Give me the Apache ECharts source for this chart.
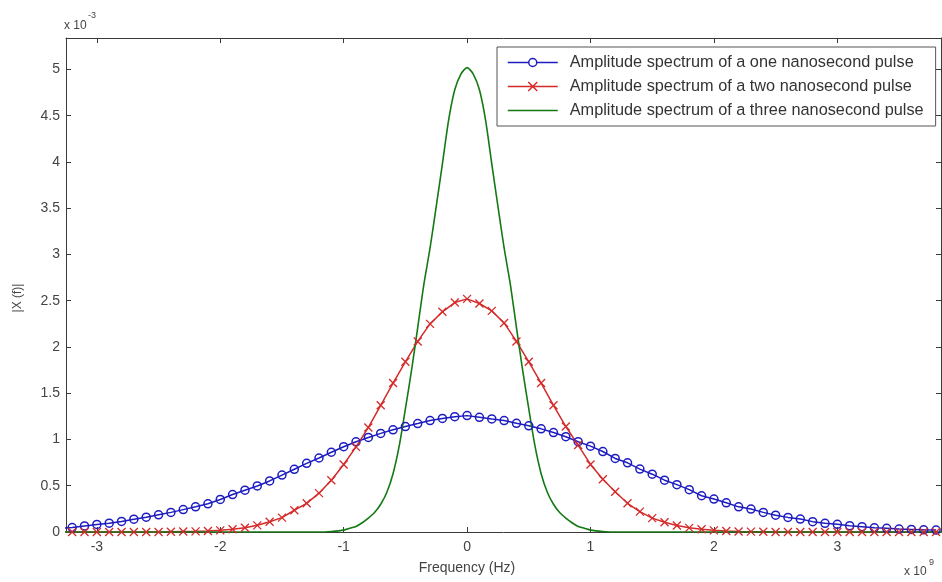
<!DOCTYPE html>
<html>
<head>
<meta charset="utf-8">
<script src="https://cdn.jsdelivr.net/npm/echarts@6/dist/echarts.min.js"></script>
<style>
html, body { margin: 0; padding: 0; background: #fff; }
#main { width: 942px; height: 582px; }
</style>
</head>
<body>
<div id="main"></div>
<script>
// 频率 (x 10^9 Hz)，每 0.1 一个点
var freq = [-3.3, -3.2, -3.1, -3, -2.9, -2.8, -2.7, -2.6, -2.5, -2.4, -2.3, -2.2, -2.1, -2,
  -1.9, -1.8, -1.7, -1.6, -1.5, -1.4, -1.3, -1.2, -1.1, -1, -0.9, -0.8, -0.7, -0.6, -0.5,
  -0.4, -0.3, -0.2, -0.1, 0, 0.1, 0.2, 0.3, 0.4, 0.5, 0.6, 0.7, 0.8, 0.9, 1, 1.1, 1.2,
  1.3, 1.4, 1.5, 1.6, 1.7, 1.8, 1.9, 2, 2.1, 2.2, 2.3, 2.4, 2.5, 2.6, 2.7, 2.8, 2.9, 3,
  3.1, 3.2, 3.3, 3.4, 3.5, 3.6, 3.7, 3.8];

// |X(f)| (x 10^-3)
var onePulse = [0.040, 0.048, 0.066, 0.082, 0.095, 0.114, 0.138, 0.160, 0.186, 0.212, 0.242,
  0.272, 0.305, 0.352, 0.405, 0.452, 0.498, 0.552, 0.615, 0.678, 0.742, 0.800, 0.862, 0.922,
  0.975, 1.022, 1.066, 1.105, 1.140, 1.172, 1.205, 1.228, 1.246, 1.258, 1.240, 1.222, 1.205,
  1.175, 1.148, 1.115, 1.075, 1.030, 0.976, 0.928, 0.870, 0.795, 0.748, 0.680, 0.625, 0.560,
  0.512, 0.458, 0.392, 0.356, 0.316, 0.272, 0.248, 0.212, 0.182, 0.158, 0.140, 0.112, 0.094,
  0.083, 0.068, 0.057, 0.046, 0.040, 0.032, 0.028, 0.023, 0.021];

var twoPulse = [0, 0, 0, 0, 0, 0, 0, 0, 0, 0.003, 0.005, 0.007, 0.011, 0.018, 0.03, 0.046,
  0.072, 0.11, 0.155, 0.235, 0.31, 0.42, 0.56, 0.73, 0.92, 1.13, 1.37, 1.61, 1.84, 2.06,
  2.25, 2.38, 2.48, 2.52, 2.47, 2.39, 2.26, 2.06, 1.84, 1.61, 1.37, 1.14, 0.94, 0.73, 0.57,
  0.435, 0.31, 0.22, 0.15, 0.105, 0.07, 0.045, 0.03, 0.018, 0.011, 0.006, 0.004, 0.002,
  0, 0, 0, 0, 0, 0, 0, 0, 0, 0, 0, 0, 0, 0];

var threeFreq = [-3.3, -1.2, -1.1, -1, -0.95, -0.9, -0.85, -0.8, -0.75, -0.7, -0.65, -0.6,
  -0.55, -0.5, -0.45, -0.4, -0.35, -0.3, -0.25, -0.2, -0.15, -0.1, -0.05, 0, 0.05, 0.1,
  0.15, 0.2, 0.25, 0.3, 0.35, 0.4, 0.45, 0.5, 0.55, 0.6, 0.65, 0.7, 0.75, 0.8, 0.85, 0.9,
  0.95, 1, 1.1, 1.2, 3.9];

var threePulse = [0, 0, 0.006, 0.02, 0.04, 0.06, 0.10, 0.15, 0.21, 0.30, 0.43, 0.63, 0.93,
  1.33, 1.75, 2.21, 2.68, 3.07, 3.52, 3.98, 4.45, 4.78, 4.95, 5.02, 4.95, 4.78, 4.45, 3.98,
  3.52, 3.07, 2.68, 2.21, 1.75, 1.33, 0.93, 0.63, 0.43, 0.30, 0.21, 0.15, 0.10, 0.06, 0.04,
  0.02, 0.006, 0, 0];

var xTicks = [-3, -2, -1, 0, 1, 2, 3];
var yTicks = [0, 0.5, 1, 1.5, 2, 2.5, 3, 3.5, 4, 4.5, 5];

var names = [
  'Amplitude spectrum of a one nanosecond pulse',
  'Amplitude spectrum of a two nanosecond pulse',
  'Amplitude spectrum of a three nanosecond pulse'
];

function pairs(xs, ys) {
  return xs.map(function (x, i) { return [x, ys[i]]; });
}

var font = 'Liberation Sans, Arial, sans-serif';
var axisColor = '#3a3a3a';
var textColor = '#444';
var blue = '#1c1cc0';
var red = '#d42a2a';
var green = '#137a13';
var crossPath = 'path://M0,0L10,10M10,0L0,10';

// 图例图标：线 + 标记（前缀 M0,0M50,14 固定包围盒）
var iconCircle = 'path://M0,0M50,14M0,7H21M29,7H50M21,7A4,4 0 1,0 29,7A4,4 0 1,0 21,7';
var iconCross = 'path://M0,0M50,14M0,7H50M20.5,2.5L29.5,11.5M29.5,2.5L20.5,11.5';
var iconLine = 'path://M0,0M50,14M0,7H50';

var myChart = echarts.init(document.getElementById('main'));

function axisCommon(ticks, extra) {
  var a = {
    type: 'value',
    axisLine: { show: true, onZero: false, lineStyle: { color: axisColor, width: 1 } },
    axisTick: { show: true, inside: true, length: 5, customValues: ticks, lineStyle: { color: axisColor } },
    splitLine: { show: false }
  };
  for (var k in extra) a[k] = extra[k];
  return a;
}

var option = {
  backgroundColor: '#fff',
  animation: false,
  grid: { left: 66, right: 1, top: 38, bottom: 50 },
  legend: {
    orient: 'vertical',
    left: 497,
    top: 47,
    padding: [6, 12, 6, 10],
    itemGap: 5,
    itemWidth: 50,
    itemHeight: 14,
    backgroundColor: '#fff',
    borderColor: '#555',
    borderWidth: 1,
    borderRadius: 0,
    textStyle: { fontFamily: font, fontSize: 16.3, color: '#333', padding: [0, 0, 0, 7], lineHeight: 19 },
    data: [
      { name: names[0], icon: iconCircle, itemStyle: { color: 'rgba(0,0,0,0)', borderColor: blue, borderWidth: 1.5 } },
      { name: names[1], icon: iconCross, itemStyle: { color: 'rgba(0,0,0,0)', borderColor: red, borderWidth: 1.5 } },
      { name: names[2], icon: iconLine, itemStyle: { color: 'rgba(0,0,0,0)', borderColor: green, borderWidth: 1.5 } }
    ]
  },
  xAxis: [
    axisCommon(xTicks, {
      min: -3.25, max: 3.84,
      axisLabel: { customValues: xTicks, fontFamily: font, fontSize: 14, color: textColor, margin: 8 }
    }),
    axisCommon(xTicks, {
      position: 'top', min: -3.25, max: 3.84,
      axisLabel: { show: false }
    })
  ],
  yAxis: [
    axisCommon(yTicks, {
      min: 0, max: 5.34,
      axisLabel: { customValues: yTicks, fontFamily: font, fontSize: 14, color: textColor, margin: 6 }
    }),
    axisCommon(yTicks, {
      position: 'right', min: 0, max: 5.34,
      axisLabel: { show: false }
    })
  ],
  series: [{
    name: names[0],
    type: 'line',
    data: pairs(freq, onePulse),
    symbol: 'circle',
    symbolSize: 8,
    lineStyle: { color: blue, width: 1.5 },
    itemStyle: { color: 'rgba(255,255,255,0)', borderColor: blue, borderWidth: 1.5 }
  }, {
    name: names[1],
    type: 'line',
    data: pairs(freq, twoPulse),
    symbol: crossPath,
    symbolSize: 8,
    lineStyle: { color: red, width: 1.5 },
    itemStyle: { color: 'rgba(255,255,255,0)', borderColor: red, borderWidth: 1.3 }
  }, {
    name: names[2],
    type: 'line',
    data: pairs(threeFreq, threePulse),
    symbol: 'none',
    smooth: 0.25,
    lineStyle: { color: green, width: 1.6 },
    itemStyle: { color: green }
  }],
  graphic: [
    { type: 'text', left: 64, top: 20, style: { text: 'x 10', font: '12px ' + font, fill: textColor } },
    { type: 'text', left: 88, top: 11, style: { text: '-3', font: '9px ' + font, fill: textColor } },
    { type: 'text', left: 904, top: 566, style: { text: 'x 10', font: '12px ' + font, fill: textColor } },
    { type: 'text', left: 929, top: 558, style: { text: '9', font: '9px ' + font, fill: textColor } },
    { type: 'text', x: 467, y: 568, style: { text: 'Frequency (Hz)', font: '14px ' + font, fill: textColor, align: 'center', verticalAlign: 'middle' } },
    { type: 'text', x: 18, y: 298, rotation: Math.PI / 2, style: { text: '|X (f)|', font: '12px ' + font, fill: textColor, align: 'center', verticalAlign: 'middle' } }
  ]
};

myChart.setOption(option);
</script>
</body>
</html>
